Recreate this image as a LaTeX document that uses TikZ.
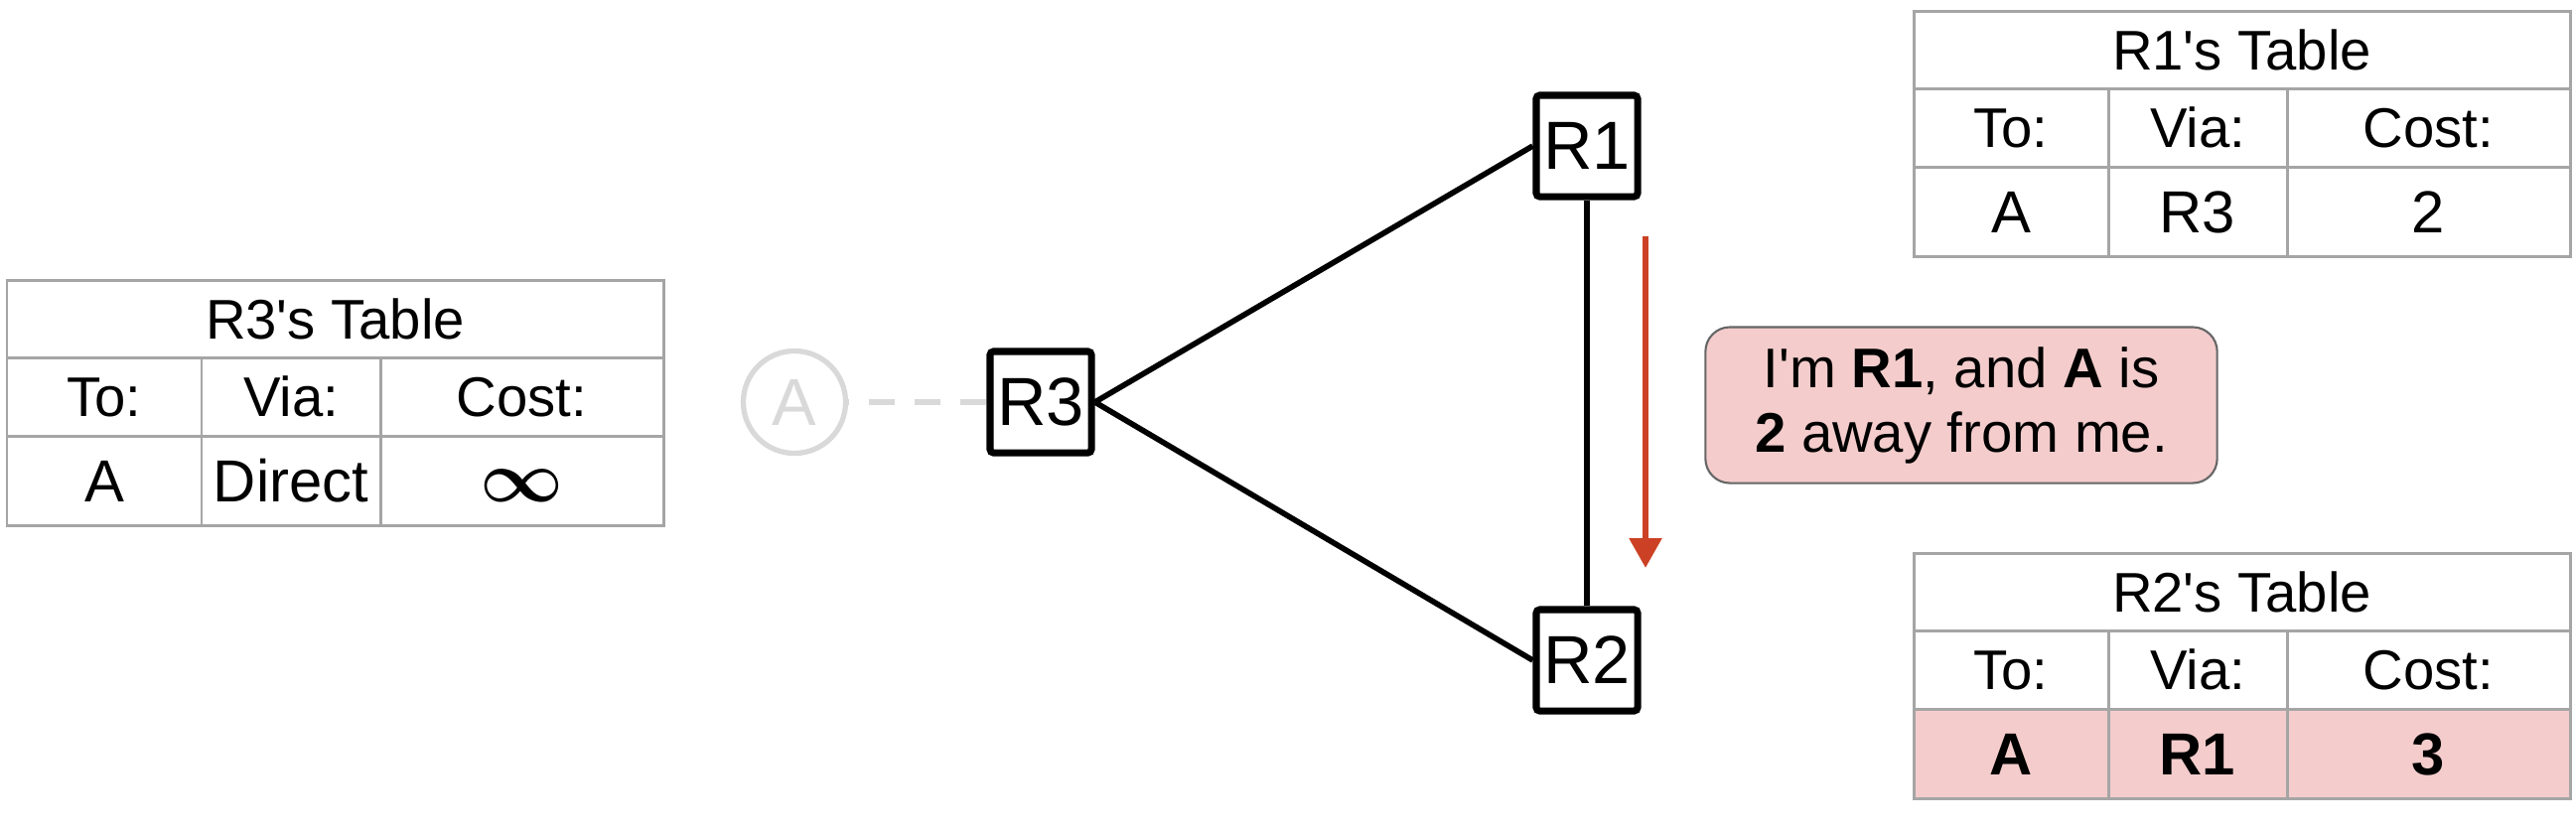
\documentclass[tikz,border=0pt]{standalone}
\usepackage{fontspec}
\setmainfont{Liberation Sans}
\usetikzlibrary{arrows.meta}

\definecolor{pinkfill}{HTML}{F4CCCC}
\definecolor{arrowred}{HTML}{CC4125}
\definecolor{gridgray}{HTML}{A5A5A5}
\definecolor{fadegray}{HTML}{D9D9D9}
\definecolor{boxgray}{HTML}{666666}

\tikzset{
  router/.style={draw, line width=2pt, minimum size=1.02cm, inner sep=0pt,
    rounded corners=1pt, font=\fontsize{19.5}{19.5}\selectfont},
  link/.style={line width=1.6pt},
  grid/.style={draw=gridgray, line width=0.85pt},
  head/.style={anchor=base, inner sep=0pt, font=\fontsize{16}{18}\selectfont},
  val/.style={anchor=base, inner sep=0pt, font=\fontsize{17}{20}\selectfont},
  msgbox/.style={draw=boxgray, line width=0.6pt, fill=pinkfill, rounded corners=7pt,
    minimum width=5.15cm, minimum height=1.57cm, align=center,
    font=\fontsize{16}{18.5}\selectfont}
}

% routing table: top-left, router, to, via, cost, fill of last row
\newcommand{\rtable}[6]{%
  \begin{scope}[shift={#1}]
    \fill[#6] (0,157) rectangle (661,247);
    \draw[grid] (0,0) rectangle (661,247) (0,78) -- (661,78) (0,157) -- (661,157)
      (196,78) -- (196,247) (376,78) -- (376,247);
    \node[head] (#2-title) at (330.5,59) {#2\textquotesingle s Table};
    \node[head] (#2-to) at (98,137.5) {To:};
    \node[head] (#2-via) at (286,137.5) {Via:};
    \node[head] (#2-cost) at (518.5,137.5) {Cost:};
    \node[val] (#2-dest) at (98,223.5) {#3};
    \node[val] (#2-hop) at (286,223.5) {#4};
    \node[val] (#2-val) at (518.5,223.5) {#5};
  \end{scope}}

\begin{document}
\begin{tikzpicture}[x=0.01cm, y=-0.01cm]
  \useasboundingbox (0,0) rectangle (2594,838);

  \node[router] (r3) at (1048,405) {R3};
  \node[router] (r1) at (1598,147) {R1};
  \node[router] (r2) at (1598,665) {R2};
  \node[circle, draw=fadegray, text=fadegray, line width=1.5pt, minimum size=1.03cm,
    inner sep=0pt, font=\fontsize{19}{19}\selectfont] (a) at (800,405) {A};

  \draw[link] (r3.east) -- (r1.west);
  \draw[link] (r3.east) -- (r2.west);
  \draw[link] (r1) -- (r2);
  \draw[fadegray, line width=1.5pt, dash pattern=on 7.4pt off 5.7pt] (r3.west) -- (a.east);

  \coordinate (sendtop) at (1657,238);
  \coordinate (sendbot) at (1657,572);
  \draw[arrowred, line width=1.8pt, -{Triangle[length=8.5pt, width=9pt]}] (sendtop) -- (sendbot);

  \node[msgbox] (msg) at (1975,408) {I\textquotesingle m \textbf{R1}, and \textbf{A} is\\\textbf{2} away from me.};

  \rtable{(7,282)}{R3}{A}{Direct}{{\fontsize{21}{21}\selectfont\boldmath$\infty$}}{white}
  \rtable{(1927,11)}{R1}{A}{R3}{2}{white}
  \rtable{(1927,557)}{R2}{\textbf{A}}{\textbf{R1}}{\textbf{3}}{pinkfill}
\end{tikzpicture}
\end{document}
